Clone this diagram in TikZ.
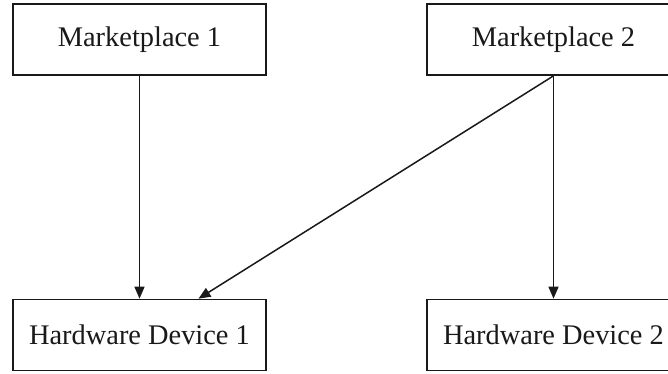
\documentclass[tikz,border=0pt]{standalone}
\usepackage{fontspec}
\setmainfont{Liberation Serif}
\usepackage{xcolor}
\usetikzlibrary{arrows.meta,positioning,calc}
\definecolor{inkgray}{RGB}{25,25,25}
\tikzset{
  unitbox/.style={
    draw=inkgray,line width=0.85pt,align=center,minimum height=35.5pt,
    minimum width=126.5pt,inner sep=0pt,font=\fontsize{14.2}{16}\selectfont,
    text=inkgray
  },
  linkarrow/.style={-{Triangle[length=6pt,width=5pt]},line width=0.75pt,draw=inkgray}
}
\begin{document}
\begin{tikzpicture}[x=0.5pt,y=-0.5pt]
  \useasboundingbox (0,0) rectangle (668,374);
  \clip (0,0) rectangle (668,374);
  \node[unitbox] (mp1) at (139.5,39.5) {Marketplace 1};
  \node[unitbox] (mp2) at (553.5,39.5) {Marketplace 2};
  \node[unitbox] (hw1) at (139.5,335) {Hardware Device 1};
  \node[unitbox] (hw2) at (553.5,335) {Hardware Device 2};
  \draw[linkarrow] (mp1.south) -- (hw1.north);
  \draw[linkarrow] (mp2.south) -- (hw2.north);
  \draw[linkarrow] (mp2.south) -- ([xshift=29.5pt]hw1.north);
\end{tikzpicture}
\end{document}
